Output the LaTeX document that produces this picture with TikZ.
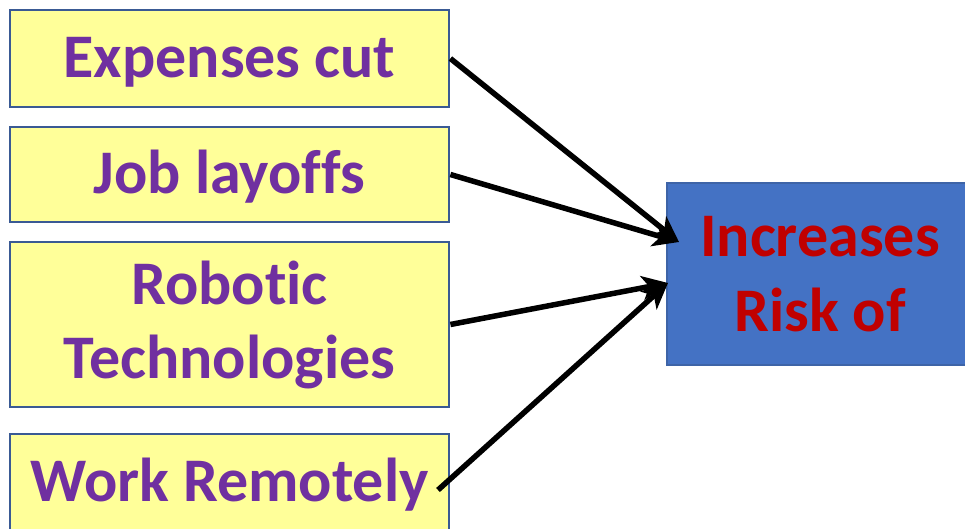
\documentclass[tikz,border=0pt]{standalone}
\usepackage{fontspec}
\setmainfont[Ligatures=NoCommon]{Carlito}
\usetikzlibrary{arrows.meta}
\definecolor{boxyellow}{HTML}{FFFF99}
\definecolor{boxborder}{HTML}{3A5A94}
\definecolor{txtpurple}{HTML}{7030A0}
\definecolor{boxblue}{HTML}{4472C4}
\definecolor{txtred}{HTML}{C00000}
\begin{document}
\begin{tikzpicture}[x=1pt,y=-1pt,
  ybox/.style={draw=boxborder, line width=2.8pt, fill=boxyellow, minimum width=439pt, inner sep=0pt,
    text=txtpurple, font=\fontsize{62}{74}\selectfont\bfseries, align=center},
  oneline/.style={text height=38pt, text depth=0pt},
  bbox/.style={draw=boxborder!60!boxblue, line width=1.5pt, fill=boxblue, minimum width=306pt, minimum height=182pt, inner sep=0pt,
    text=txtred, font=\fontsize{62}{75}\selectfont\bfseries, align=center},
  conn/.style={line width=5.5pt, -{Stealth[length=26pt,width=24pt,inset=7pt]}}]
\useasboundingbox (0,0) rectangle (965,529);
\node[ybox, oneline, minimum height=97pt] (b1) at (229.5,58.5) {Expenses cut};
\node[ybox, oneline, minimum height=95pt] (b2) at (229.5,174.5) {Job layoffs};
\node[ybox, minimum height=165pt] (b3) at (229.5,324.5) {Robotic\\Technologies};
\node[ybox, oneline, minimum height=97pt] (b4) at (229.5,482.5) {Work Remotely};
\node[bbox] (r) at (820,274) {Increases\\Risk of};
\coordinate (t1) at (679,242);
\coordinate (t2) at (668,283);
\coordinate (s4) at (438,490);
\draw[conn] (b1.east) -- (t1);
\draw[conn] (b2.east) -- (t1);
\draw[conn] (b3.east) -- (t2);
\draw[conn] (s4) -- (t2);
\end{tikzpicture}
\end{document}
